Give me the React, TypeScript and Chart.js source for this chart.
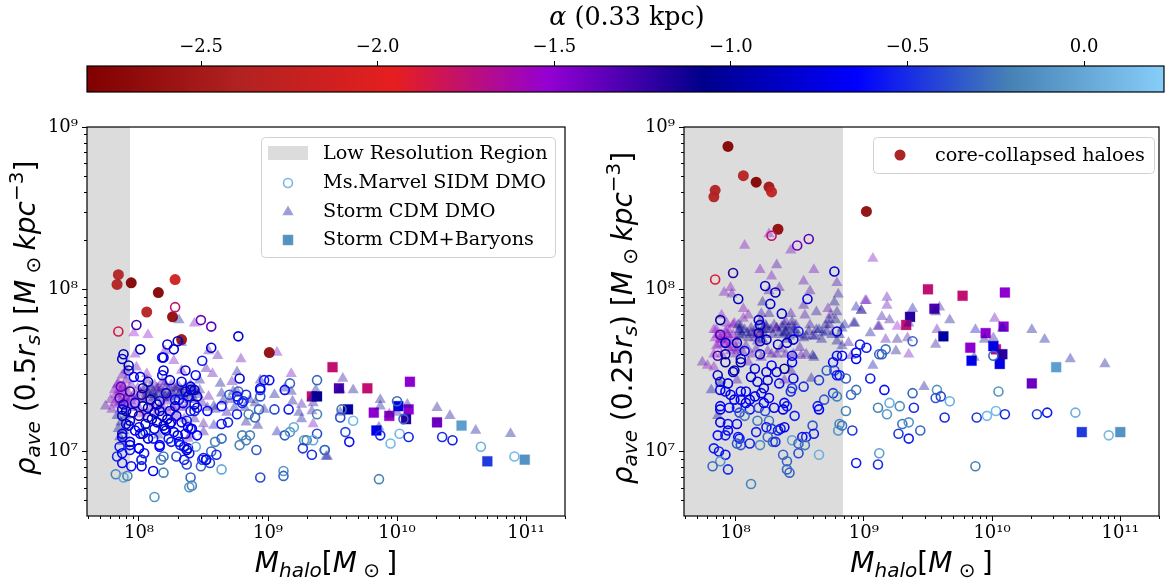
import React, { useEffect, useRef } from "react";
import { Chart, registerables } from "chart.js";
import { drawPoint } from "chart.js/helpers";

Chart.register(...registerables);

type P = [number, number, number]; // [log10 Mhalo, log10 rho, alpha]

const cmapColors = ["#800000", "#b22222", "#e61e1e", "#9400d3", "#00008b", "#0000ff", "#4682b4", "#87cefa"];
const alphaMin = -2.823;
const alphaMax = 0.226;
const alphaTicks = [-2.5, -2.0, -1.5, -1.0, -0.5, 0.0];
const massDecades = [8, 9, 10, 11];
const rhoDecades = [7, 8, 9];
const supers: Record<string, string> = { "7": "⁷", "8": "⁸", "9": "⁹", "10": "¹⁰", "11": "¹¹" };

const leftLowRes = 7.93;
const rightLowRes = 8.837;

const leftLegendNames = ["Low Resolution Region", "Ms.Marvel SIDM DMO", "Storm CDM DMO", "Storm CDM+Baryons"];
const rightLegendNames = ["core-collapsed haloes"];

const leftCollapsed: P[] = [
  [7.84,8.09,-2.39],[7.83,8.03,-2.4],[7.94,8.04,-2.8],[8.28,8.06,-2.15],[8.15,7.98,-2.8],
  [8.06,7.86,-2.35],[8.26,7.83,-2.7],[8.33,7.69,-2.6],[9.01,7.61,-2.7],
];
const leftBaryon: P[] = [
  [9.50,7.52,-1.75],[9.55,7.39,-1.3],[9.77,7.39,-1.75],[10.10,7.43,-1.5],[9.62,7.26,-1.0],[9.82,7.24,-1.5],
  [9.94,7.22,-1.55],[10.01,7.28,-0.75],[10.09,7.26,-1.5],[10.07,7.20,-1.2],[9.84,7.13,-0.7],[10.31,7.18,-1.4],
  [10.50,7.16,-0.05],[10.70,6.94,-0.45],[10.99,6.95,-0.12],[9.34,7.34,-1.75],[9.38,7.34,-1.1],
];
const leftCdm: P[] = [
  [8.31,7.81,-1.1],[8.43,7.79,-1.4],[7.96,7.73,-1.5],[8.07,7.72,-1.5],[8.33,7.67,-1.2],[9.07,7.61,-1.4],
  [8.79,7.57,-1.35],[8.61,7.59,-1.3],[8.54,7.62,-1.3],[8.27,7.56,-1.4],[8.20,7.62,-1.4],[7.97,7.60,-1.4],
  [7.98,7.52,-1.35],[7.90,7.50,-1.4],[7.87,7.47,-1.4],[8.06,7.48,-1.4],[8.52,7.51,-1.25],[8.57,7.48,-1.35],
  [8.33,7.50,-1.35],[8.47,7.44,-1.1],[8.76,7.49,-1.05],[8.72,7.43,-1.3],[8.63,7.42,-1.05],[8.64,7.36,-1.0],
  [8.54,7.34,-1.35],[9.05,7.35,-1.0],[8.94,7.44,-1.05],[9.18,7.48,-1.4],[9.18,7.37,-1.1],[9.13,7.39,-1.0],
  [9.19,7.31,-1.1],[9.26,7.29,-1.25],[9.24,7.24,-1.05],[9.34,7.25,-1.25],[9.35,7.17,-1.4],[9.26,7.20,-1.0],
  [9.07,7.12,-0.95],[8.92,7.16,-1.05],[8.83,7.18,-1.1],[8.68,7.24,-1.2],[8.59,7.26,-1.1],[8.58,7.16,-0.9],
  [8.50,7.17,-1.25],[8.50,7.12,-1.2],[8.73,7.37,-1.05],[8.76,7.37,-1.2],[8.86,7.32,-1.0],[9.37,7.38,-1.0],
  [9.35,7.30,-1.05],[9.34,7.33,-0.9],[9.45,6.97,-0.95],[8.38,7.08,-1.35],[7.85,7.09,-1.0],[7.83,7.22,-1.0],
  [7.74,7.28,-1.3],[7.79,7.26,-1.45],[7.81,7.38,-1.45],[7.84,7.42,-1.45],[7.87,7.39,-1.5],[7.88,7.36,-1.45],
  [7.84,7.34,-1.5],[7.81,7.30,-1.45],[7.89,7.32,-1.4],[7.93,7.27,-1.4],[7.97,7.31,-1.45],[8.01,7.36,-1.3],
  [8.05,7.39,-1.2],[8.07,7.35,-1.1],[8.11,7.37,-1.15],[8.15,7.39,-1.25],[8.18,7.43,-1.35],[8.21,7.40,-1.15],
  [8.25,7.37,-1.1],[8.29,7.39,-1.1],[8.32,7.36,-1.15],[8.36,7.32,-1.25],[8.42,7.39,-1.1],[8.46,7.35,-1.15],
  [8.49,7.30,-1.25],[8.09,7.30,-1.3],[8.16,7.28,-1.2],[8.21,7.31,-1.3],[8.28,7.28,-1.35],[8.29,7.22,-1.4],
  [8.00,7.27,-1.35],[8.02,7.23,-1.4],[8.12,7.34,-1.05],[8.19,7.33,-1.2],[8.24,7.34,-1.25],[8.03,7.32,-1.25],
  [8.06,7.44,-1.3],[7.94,7.41,-1.35],[7.95,7.34,-1.4],[7.92,7.36,-1.45],[8.14,7.39,-1.3],[8.40,7.34,-1.1],
  [8.43,7.32,-1.05],[8.37,7.28,-1.3],[8.53,7.27,-1.15],[8.58,7.28,-1.1],[7.88,7.13,-1.0],[7.84,7.14,-1.0],
  [7.87,7.06,-0.95],[9.58,7.45,-1.2],[9.56,7.38,-1.05],[9.66,7.38,-1.05],[9.87,7.32,-1.05],[9.87,7.28,-1.1],
  [9.56,7.24,-1.1],[10.08,7.29,-1.15],[10.31,7.27,-1.1],[10.41,7.22,-1.05],[10.61,7.13,-1.05],[10.88,7.11,-1.05],
  [9.86,7.15,-1.0],[9.46,6.97,-1.05],[9.94,7.23,-1.2],[10.0,7.24,-1.2],
  [7.82,7.35,-1.5],[7.85,7.37,-1.55],[7.86,7.31,-1.5],[7.88,7.40,-1.5],[7.83,7.41,-1.45],[7.90,7.33,-1.5],
  [7.91,7.30,-1.5],[7.94,7.33,-1.45],[7.96,7.28,-1.45],[7.98,7.34,-1.4],[7.99,7.39,-1.35],[7.90,7.44,-1.45],
  [7.88,7.29,-1.45],[7.84,7.29,-1.5],[7.78,7.32,-1.45],[8.03,7.38,-1.25],[8.05,7.33,-1.2],[8.07,7.37,-1.1],
  [8.09,7.40,-1.2],[8.10,7.35,-1.05],[8.12,7.41,-1.25],[8.13,7.33,-1.15],[8.15,7.36,-1.1],[8.17,7.38,-1.2],
  [8.19,7.36,-1.15],[8.20,7.42,-1.3],[8.22,7.36,-1.1],[8.23,7.33,-1.2],[8.25,7.41,-1.3],[8.27,7.35,-1.15],
  [8.28,7.39,-1.2],[8.30,7.34,-1.15],[8.31,7.40,-1.2],[8.33,7.38,-1.1],[8.34,7.35,-1.1],[8.36,7.40,-1.15],
  [8.38,7.36,-1.05],[8.40,7.41,-1.1],[8.41,7.37,-1.05],[8.44,7.37,-1.1],[8.47,7.38,-1.2],[8.10,7.27,-1.35],
  [8.14,7.25,-1.4],[8.18,7.28,-1.3],[8.22,7.25,-1.35],[8.26,7.27,-1.3],[8.33,7.27,-1.35],[8.06,7.24,-1.4],
  [8.35,7.20,-1.35],[8.40,7.10,-1.3],[8.43,7.20,-1.2],[8.15,7.10,-1.0],[7.90,7.22,-1.1],[7.86,7.18,-1.0],
  [8.65,7.31,-1.1],[8.70,7.32,-1.15],[8.74,7.27,-1.0],[8.82,7.27,-1.0],[8.90,7.30,-1.1],[8.97,7.26,-1.1],
];
const leftSidm: P[] = [
  [7.84,7.74,-1.85],[8.28,7.89,-1.75],[7.98,7.78,-1.25],[8.48,7.81,-1.4],[8.56,7.77,-1.35],[8.77,7.71,-0.75],
  [8.30,7.68,-0.9],[8.22,7.66,-0.8],[8.01,7.63,-0.95],[8.27,7.63,-0.8],[8.56,7.64,-0.8],[7.88,7.60,-0.9],
  [7.87,7.57,-0.8],[8.18,7.58,-0.7],[8.19,7.58,-0.75],[8.49,7.56,-0.55],[7.92,7.53,-0.9],[7.92,7.50,-0.85],
  [8.36,7.50,-0.85],[8.19,7.50,-0.75],[8.18,7.47,-0.7],[7.96,7.46,-0.75],[8.01,7.46,-0.75],[8.44,7.47,-0.65],
  [8.07,7.43,-0.95],[8.24,7.44,-0.8],[8.33,7.43,-0.75],[8.78,7.45,-0.8],[8.40,7.40,-0.75],[8.03,7.39,-0.95],
  [7.86,7.40,-1.4],[7.93,7.37,-1.2],[8.21,7.36,-0.85],[8.36,7.37,-0.85],[8.43,7.38,-0.85],[8.45,7.34,-0.85],
  [8.38,7.34,-0.75],[8.31,7.32,-0.55],[7.85,7.33,-1.3],[8.02,7.35,-1.2],[8.94,7.38,-0.5],[8.77,7.37,-0.3],
  [8.70,7.35,-0.35],[8.83,7.35,-0.5],[8.94,7.34,-0.35],[8.97,7.44,-0.55],[9.01,7.44,-0.6],[9.17,7.42,-0.3],
  [9.38,7.44,-0.3],[9.13,7.38,-0.6],[8.77,7.32,-0.5],[8.80,7.30,-0.5],[8.64,7.28,-0.6],[8.93,7.26,-0.3],
  [9.05,7.26,-0.4],[9.16,7.26,-0.55],[8.53,7.25,-0.65],[8.45,7.27,-0.65],[8.40,7.25,-0.55],[8.43,7.25,-0.55],
  [8.24,7.25,-0.75],[8.14,7.29,-0.85],[8.16,7.25,-0.85],[8.03,7.28,-0.95],[7.88,7.29,-0.85],[7.87,7.26,-0.75],
  [7.87,7.22,-0.85],[7.93,7.19,-0.85],[8.00,7.22,-1.2],[8.07,7.21,-0.85],[8.14,7.18,-0.85],[8.24,7.17,-0.85],
  [8.37,7.19,-0.55],[8.76,7.23,-0.55],[8.85,7.23,-0.2],[8.90,7.21,-0.3],[8.69,7.18,-0.5],[8.64,7.17,-0.6],
  [9.38,7.23,-0.2],[7.92,7.16,-0.75],[7.97,7.13,-0.7],[8.01,7.11,-0.65],[8.05,7.12,-0.3],[8.20,7.14,-0.75],
  [8.27,7.12,-0.65],[8.40,7.14,-0.55],[8.36,7.11,-0.75],[8.45,7.10,-0.65],[7.87,7.11,-0.75],[7.87,7.09,-0.75],
  [8.11,7.08,-0.55],[8.07,7.08,-0.75],[8.16,7.04,-0.65],[8.25,7.06,-0.55],[8.32,7.04,-0.55],[8.38,7.02,-0.65],
  [8.44,7.03,0.0],[8.59,7.06,-0.2],[8.64,7.08,-0.3],[8.80,7.10,-0.2],[8.86,7.10,-0.2],[8.83,7.07,-0.2],
  [8.78,7.04,-0.2],[8.91,7.01,-0.35],[9.13,7.10,-0.35],[9.17,7.12,-0.1],[9.20,7.15,0],[9.38,7.11,-0.4],
  [9.28,7.07,-0.1],[9.30,7.07,-0.2],[9.35,7.07,0],[9.27,7.02,-0.45],[9.44,7.01,-0.2],[9.34,6.98,-0.5],
  [7.85,7.03,-0.55],[7.93,7.04,-0.65],[7.93,7.01,-0.55],[8.00,7.02,-0.55],[8.04,6.99,-0.6],[7.83,6.97,-0.5],
  [7.87,6.99,-0.65],[7.87,6.93,-0.6],[7.94,6.91,-0.6],[8.02,6.91,-0.65],[8.02,6.95,-0.4],[8.17,6.95,-0.25],
  [8.19,6.97,-0.25],[8.29,6.97,-0.4],[8.35,6.95,-0.6],[8.39,6.99,-0.55],[8.37,6.92,-0.4],[8.48,6.91,-0.3],
  [8.49,6.95,-0.4],[8.52,6.95,-0.4],[8.56,7.00,-0.3],[8.60,6.98,-0.5],[8.55,6.93,-0.4],[8.64,6.89,0.0],
  [9.12,6.88,-0.1],[9.12,6.85,-0.3],[8.94,6.84,-0.4],[8.11,6.88,-0.65],[8.19,6.87,-0.2],[7.82,6.86,-0.2],
  [7.88,6.84,0.0],[7.91,6.85,-0.2],[8.40,6.84,-0.3],[8.41,6.79,-0.2],[8.39,6.78,-0.1],[8.12,6.72,-0.1],
  [9.57,7.26,-0.25],[9.56,7.21,-0.4],[9.66,7.19,0.1],[9.60,7.12,-0.4],[9.63,7.06,-0.6],[9.44,7.01,-0.3],
  [10.00,7.31,-0.3],[10.05,7.20,-0.3],[9.87,7.10,-0.5],[10.02,7.11,0.1],[9.95,7.05,0.1],[10.09,7.09,-0.5],
  [10.35,7.09,-0.5],[10.43,7.07,-0.55],[10.65,7.03,0.05],[10.91,6.97,0.1],[9.86,6.83,-0.2],
  [7.97,7.30,-0.85],[8.09,7.32,-0.95],[8.16,7.31,-0.85],[8.28,7.32,-0.75],[8.03,7.11,-0.75],[8.19,7.16,-0.85],
  [8.21,7.13,-0.75],[8.25,7.18,-0.75],[8.41,7.14,-0.65],[8.38,7.15,-0.75],[8.10,7.20,-0.85],[7.93,7.06,-0.75],
  [8.00,7.02,-0.65],[8.16,7.03,-0.65],[8.35,7.03,-0.6],[8.31,7.06,-0.6],[8.37,7.01,-0.85],[8.02,6.95,-0.5],
  [8.50,6.96,-0.55],[8.52,6.95,-0.65],[7.90,7.17,-0.85],[8.43,7.29,-0.85],[8.40,7.38,-0.85],[8.76,7.34,-0.6],
  [8.81,7.31,-0.5],[8.94,7.39,-0.65],
  [8.07,7.27,-0.9],[8.12,7.24,-0.85],[8.18,7.22,-0.8],[8.22,7.20,-0.85],[8.29,7.22,-0.75],[8.33,7.18,-0.7],
  [7.95,7.24,-0.85],[7.90,7.25,-0.95],[8.05,7.17,-0.85],[8.12,7.14,-0.75],[8.30,7.10,-0.75],[8.23,7.08,-0.55],
  [8.00,7.15,-0.75],[8.28,7.28,-0.85],[8.34,7.30,-0.75],
];

const rightCollapsed: P[] = [
  [7.94,8.88,-2.8],[8.06,8.70,-2.35],[8.16,8.66,-2.8],[8.26,8.63,-2.55],[8.28,8.60,-2.25],[7.84,8.61,-2.4],
  [7.83,8.57,-2.4],[8.33,8.37,-2.7],[9.02,8.48,-2.7],
];
const rightBaryon: P[] = [
  [9.50,8.00,-1.75],[9.77,7.96,-1.75],[10.10,7.98,-1.5],[9.55,7.88,-1.3],[9.36,7.83,-1.2],[9.33,7.78,-1.75],
  [9.62,7.71,-1.0],[9.95,7.73,-1.5],[10.09,7.77,-1.5],[9.83,7.64,-1.5],[10.03,7.63,-1.7],[10.01,7.65,-0.75],
  [10.08,7.60,-1.2],[9.84,7.56,-0.7],[10.06,7.54,-0.75],[10.31,7.42,-1.4],[10.50,7.52,-0.05],[10.70,7.12,-0.45],
  [11.00,7.12,-0.12],
];
const rightCdm: P[] = [
  [8.07,8.27,-1.45],[8.26,8.34,-1.5],[8.43,8.24,-1.4],[8.32,8.15,-1.3],[8.19,8.12,-1.4],[8.28,8.08,-1.4],
  [8.61,8.12,-1.4],[9.07,8.19,-1.4],[7.91,7.98,-1.4],[7.96,8.01,-1.45],[7.97,7.97,-1.35],[8.34,8.01,-1.3],
  [8.26,7.99,-1.3],[8.53,8.05,-1.35],[8.79,8.04,-1.3],[8.58,7.99,-1.3],[8.80,7.97,-1.2],[8.21,7.92,-1.1],
  [8.77,7.92,-1.1],[8.53,7.90,-1.25],[8.06,7.88,-1.45],[8.63,7.86,-1.2],[9.01,7.93,-1.35],[8.94,7.89,-0.95],
  [8.98,7.87,-1.1],[8.72,7.88,-1.35],[8.79,7.86,-1.15],[8.54,7.84,-1.3],[8.43,7.85,-1.25],[8.74,7.84,-1.3],
  [8.10,7.84,-1.4],[8.06,7.82,-1.45],[7.89,7.84,-1.5],[7.99,7.79,-1.5],[7.93,7.79,-1.45],[7.85,7.75,-1.5],
  [8.93,7.79,-1.05],[9.05,7.73,-1.05],[9.11,7.77,-1.15],[8.20,7.85,-1.2],[8.26,7.85,-1.2],[8.19,7.80,-1.2],
  [8.44,7.80,-1.15],[8.39,7.80,-1.3],[8.32,7.76,-1.3],[8.03,7.75,-1.05],[8.24,7.77,-1.05],[8.12,7.73,-1.15],
  [8.39,7.74,-1.1],[8.46,7.75,-1.0],[8.55,7.71,-1.1],[8.65,7.75,-1.0],[8.70,7.78,-1.1],[8.73,7.81,-1.1],
  [8.83,7.76,-1.0],[8.78,7.81,-1.1],[7.94,7.75,-1.5],[8.03,7.71,-1.2],[8.19,7.73,-1.3],[8.03,7.74,-1.0],
  [7.98,7.78,-1.45],[7.83,7.75,-1.5],[7.94,7.72,-1.45],[8.10,7.70,-1.15],[8.24,7.75,-1.2],[8.32,7.76,-1.3],
  [8.39,7.73,-1.1],[8.44,7.77,-1.15],[8.53,7.70,-1.1],[8.67,7.69,-1.1],[8.63,7.75,-1.05],[8.60,7.71,-1.25],
  [8.73,7.78,-1.2],[8.79,7.68,-1.05],[8.88,7.67,-1.2],[8.92,7.79,-1.1],[8.83,7.65,-1.1],[8.90,7.59,-1.25],
  [9.07,7.53,-0.95],[8.60,7.59,-1.1],[8.61,7.58,-1.05],[8.50,7.64,-1.25],[8.51,7.59,-1.3],[8.39,7.60,-1.3],
  [8.32,7.60,-1.3],[8.25,7.62,-1.35],[8.16,7.63,-1.3],[7.74,7.55,-1.3],[7.78,7.53,-1.45],[7.83,7.52,-1.45],
  [7.83,7.60,-1.5],[7.85,7.65,-1.5],[7.89,7.60,-1.45],[7.90,7.69,-1.5],[7.96,7.62,-1.45],[8.0,7.68,-1.45],
  [8.10,7.55,-1.35],[8.01,7.44,-1.25],[7.88,7.42,-1.1],[7.81,7.38,-0.95],[7.86,7.22,-1.1],[8.59,7.45,-1.1],
  [8.38,7.44,-1.35],[8.43,7.50,-1.2],[7.94,7.64,-1.5],[8.01,7.63,-1.45],[8.08,7.65,-1.3],[8.18,7.73,-1.35],
  [8.21,7.69,-1.1],[8.40,7.69,-1.2],[8.46,7.73,-1.1],[8.15,7.70,-1.3],[7.88,7.69,-1.5],
  [9.18,7.95,-1.3],[9.02,7.93,-1.35],[9.18,7.90,-1.35],[8.98,7.87,-1.2],[9.14,7.83,-1.2],[9.20,7.81,-1.2],
  [9.12,7.77,-1.3],[9.26,7.77,-1.5],[9.38,7.88,-0.95],[9.35,7.79,-1.0],[9.17,7.69,-1.3],[9.26,7.69,-1.15],
  [9.34,7.70,-1.3],[9.25,7.62,-1.1],[9.35,7.60,-1.4],[9.47,7.40,-1.05],[9.56,7.86,-1.1],[9.59,7.89,-1.2],
  [9.67,7.81,-1.1],[9.57,7.75,-1.3],[9.56,7.66,-1.15],[9.87,7.75,-0.9],[10.02,7.82,-1.35],[9.94,7.69,-1.1],
  [10.01,7.70,-1.15],[10.08,7.76,-0.95],[9.86,7.58,-1.05],[10.31,7.75,-1.05],[10.41,7.69,-1.05],[10.61,7.57,-1.05],
  [10.88,7.54,-1.05],
  [7.84,7.70,-1.5],[7.86,7.72,-1.5],[7.87,7.66,-1.5],[7.89,7.72,-1.55],[7.91,7.66,-1.5],[7.92,7.74,-1.45],
  [7.93,7.68,-1.5],[7.95,7.70,-1.5],[7.96,7.66,-1.5],[7.98,7.72,-1.45],[8.00,7.64,-1.4],[8.02,7.78,-1.1],
  [8.04,7.77,-1.05],[8.05,7.72,-1.1],[8.07,7.75,-1.15],[8.09,7.73,-1.1],[8.12,7.76,-1.2],[8.14,7.72,-1.2],
  [8.16,7.76,-1.1],[8.17,7.68,-1.25],[8.21,7.75,-1.15],[8.22,7.72,-1.1],[8.23,7.78,-1.15],[8.27,7.75,-1.1],
  [8.29,7.72,-1.2],[8.30,7.78,-1.2],[8.34,7.73,-1.05],[8.36,7.77,-1.1],[8.37,7.72,-1.05],[8.38,7.78,-1.15],
  [8.41,7.76,-1.05],[8.42,7.71,-1.1],[8.47,7.78,-1.2],[8.49,7.72,-1.15],[8.57,7.74,-1.1],[8.58,7.78,-1.2],
  [8.62,7.71,-1.0],[8.68,7.73,-1.0],[8.71,7.74,-1.0],[8.75,7.72,-1.0],[8.81,7.72,-1.05],[8.85,7.78,-1.05],
  [8.00,7.60,-1.35],[8.05,7.62,-1.3],[8.12,7.60,-1.35],[8.20,7.58,-1.3],[8.28,7.60,-1.3],[8.35,7.63,-1.3],
  [8.45,7.60,-1.3],[8.55,7.60,-1.25],
];
const rightSidm: P[] = [
  [8.28,8.33,-1.75],[8.48,8.27,-1.4],[8.57,8.31,-1.35],[7.84,8.06,-1.9],[7.98,8.10,-1.2],[8.77,8.11,-0.8],
  [8.23,8.02,-0.85],[8.31,7.98,-0.9],[8.02,7.94,-0.9],[8.27,7.91,-0.8],[8.56,7.94,-0.75],[8.36,7.85,-0.85],
  [7.88,7.81,-0.95],[8.18,7.81,-0.8],[8.19,7.78,-0.85],[8.49,7.74,-0.55],[8.79,7.74,-0.8],[7.88,7.72,-1.3],
  [8.18,7.73,-0.95],[8.33,7.66,-0.85],[8.40,7.67,-0.85],[8.45,7.69,-0.85],[8.24,7.69,-0.85],[8.19,7.68,-0.85],
  [7.92,7.67,-0.9],[8.01,7.67,-0.95],[8.07,7.62,-0.75],[7.86,7.59,-1.3],[7.92,7.60,-0.95],[8.04,7.57,-0.85],
  [8.19,7.60,-0.85],[8.44,7.59,-0.7],[8.44,7.55,-0.7],[8.79,7.59,-0.6],[8.83,7.59,-0.6],[8.94,7.61,-0.6],
  [8.94,7.57,-0.75],[8.97,7.66,-0.55],[9.02,7.64,-0.55],[9.12,7.60,-0.3],[8.76,7.55,-0.65],[7.92,7.55,-1.0],
  [8.04,7.55,-0.95],[8.15,7.51,-0.75],[7.99,7.50,-0.95],[7.98,7.49,-0.85],[8.28,7.53,-0.65],[8.32,7.49,-0.7],
  [8.38,7.51,-1.05],[8.24,7.49,-0.8],[8.71,7.50,-0.35],[8.77,7.50,-0.4],[8.79,7.47,-0.55],[8.81,7.47,-0.6],
  [8.86,7.45,-0.3],[9.05,7.45,-0.55],[8.65,7.44,-0.45],[8.45,7.45,-0.7],[8.53,7.40,-0.5],[8.34,7.42,-0.6],
  [8.17,7.43,-0.8],[8.25,7.44,-0.75],[8.12,7.46,-0.85],[7.86,7.47,-0.85],[7.88,7.43,-0.75],[7.94,7.42,-0.75],
  [8.22,7.39,-0.75],[8.20,7.36,-0.75],[8.44,7.39,-0.45],[8.43,7.37,-0.5],[8.76,7.36,-0.45],[8.79,7.34,-0.2],
  [8.69,7.32,-0.35],[8.90,7.35,-0.3],[8.94,7.38,-0.25],[7.88,7.38,-0.7],[7.92,7.37,-0.65],[7.96,7.35,-0.7],
  [8.04,7.37,-0.65],[8.08,7.37,-0.7],[8.04,7.32,-0.65],[8.26,7.33,-0.65],[8.15,7.34,-0.7],[8.11,7.32,-0.7],
  [7.99,7.32,-0.75],[7.88,7.28,-0.65],[7.88,7.26,-0.7],[7.95,7.27,-0.6],[8.01,7.27,-0.55],[8.03,7.24,-0.4],
  [8.11,7.26,-0.6],[8.18,7.27,-0.4],[8.38,7.30,-0.65],[8.37,7.26,-0.75],[8.40,7.28,-0.55],[8.46,7.22,-0.55],
  [8.23,7.25,-0.4],[8.64,7.28,-0.55],[8.65,7.26,-0.65],[8.86,7.25,-0.2],[9.11,7.27,-0.2],[8.07,7.22,-0.25],
  [7.88,7.18,-0.7],[7.94,7.17,-0.6],[8.01,7.17,-0.65],[7.94,7.13,-0.65],[7.92,7.10,-0.55],[7.86,7.10,-0.6],
  [8.17,7.19,-0.25],[8.26,7.19,-0.25],[8.24,7.15,-0.6],[8.16,7.12,-0.55],[8.33,7.13,-0.55],[8.35,7.14,-0.55],
  [8.38,7.15,-0.75],[8.28,7.14,-0.45],[8.81,7.17,-0.2],[8.80,7.13,-0.1],[8.83,7.16,-0.25],[8.91,7.13,-0.45],
  [8.60,7.16,-0.35],[8.61,7.11,-0.55],[8.55,7.09,-0.5],[8.52,7.09,-0.6],[8.44,7.07,-0.05],[8.25,7.09,-0.3],
  [8.02,7.09,-0.6],[8.03,7.08,-0.55],[8.01,7.05,-0.35],[8.04,7.04,-0.35],[8.11,7.05,-0.55],[8.19,7.04,-0.15],
  [8.29,7.06,-0.3],[8.31,7.06,-0.5],[8.49,7.05,-0.3],[8.54,7.04,-0.25],[8.49,6.99,-0.4],[8.65,6.98,0.05],
  [8.37,6.98,-0.3],[8.40,6.94,-0.3],[8.40,6.89,-0.3],[8.42,6.87,-0.3],[7.83,7.02,-0.55],[7.87,7.00,-0.55],
  [7.92,6.98,-0.6],[7.88,6.94,-0.1],[7.82,6.91,-0.3],[7.94,6.89,-0.5],[8.12,6.80,-0.2],[8.94,6.93,-0.55],
  [9.12,6.99,-0.05],[9.11,6.92,-0.5],
  [9.38,7.68,-0.3],[9.17,7.63,-0.25],[9.14,7.60,-0.35],[9.16,7.38,-0.6],[9.38,7.36,-0.3],[9.57,7.38,-0.1],
  [9.56,7.33,-0.35],[9.60,7.34,-0.4],[9.67,7.31,0.05],[9.20,7.30,0.05],[9.28,7.28,-0.15],[9.39,7.27,-0.5],
  [9.18,7.23,-0.1],[9.30,7.17,-0.25],[9.35,7.18,-0.1],[9.44,7.13,-0.3],[9.27,7.11,-0.45],[9.35,7.08,-0.55],
  [9.63,7.21,-0.5],[9.88,7.21,-0.45],[9.96,7.22,0.1],[10.03,7.25,0.1],[10.10,7.23,-0.5],[10.35,7.23,-0.45],
  [10.43,7.24,-0.55],[10.65,7.24,0.05],[10.91,7.10,0.1],[10.05,7.37,-0.1],[10.01,7.59,-0.3],[9.87,6.91,-0.2],
  [8.08,7.30,-0.7],[8.22,7.30,-0.7],[8.30,7.27,-0.7],
];

const hexToRgb = (h: string) => [parseInt(h.slice(1, 3), 16), parseInt(h.slice(3, 5), 16), parseInt(h.slice(5, 7), 16)];
const rgbStops = cmapColors.map(hexToRgb);
function cmap(a: number, op = 1) {
  const t = Math.min(1, Math.max(0, (a - alphaMin) / (alphaMax - alphaMin))) * (rgbStops.length - 1);
  const i = Math.min(rgbStops.length - 2, Math.floor(t));
  const f = t - i;
  const c = rgbStops[i].map((v, k) => Math.round(v + (rgbStops[i + 1][k] - v) * f));
  return `rgba(${c[0]},${c[1]},${c[2]},${op})`;
}

type Seg = [string, "r" | "i" | "sub" | "subr" | "sup"];
function drawRich(ctx: CanvasRenderingContext2D, segs: Seg[], x: number, y: number, size: number, family: string, rot = 0) {
  const small = Math.round(size * 0.7);
  const fontOf = (k: string) =>
    k === "r" ? `${size}px ${family}` : k === "i" ? `italic ${size}px ${family}` : k === "sub" ? `italic ${small}px ${family}` : `${small}px ${family}`;
  ctx.save();
  ctx.textBaseline = "alphabetic";
  ctx.textAlign = "left";
  ctx.fillStyle = "#000";
  let w = 0;
  for (const [t, k] of segs) {
    ctx.font = fontOf(k);
    w += ctx.measureText(t).width;
  }
  ctx.translate(x, y);
  ctx.rotate(rot);
  let cx = -w / 2;
  for (const [t, k] of segs) {
    ctx.font = fontOf(k);
    const dy = k === "sub" || k === "subr" ? size * 0.17 : k === "sup" ? -size * 0.42 : 0;
    ctx.fillText(t, cx, dy);
    cx += ctx.measureText(t).width;
  }
  ctx.restore();
}

const xTitle: Seg[] = [["M", "i"], ["halo", "sub"], ["[", "r"], ["M", "i"], [" ⊙ ", "subr"], ["]", "r"]];
const yTitleOf = (r: string): Seg[] => [
  ["ρ", "i"], ["ave", "sub"], [" (" + r, "r"], ["r", "i"], ["s", "sub"], [") [", "r"], ["M", "i"], [" ⊙ ", "subr"], ["kpc", "i"], ["−3", "sup"], ["]", "r"],
];

function makePanel(canvas: HTMLCanvasElement, cfg: {
  sidm: P[]; cdm: P[]; baryon: P[]; collapsed: P[]; lowRes: number; radius: string; pad: number; legend: "left" | "right";
}) {
  const toPts = (arr: P[]) => arr.map((p) => ({ x: 10 ** p[0], y: 10 ** p[1], a: p[2] }));
  const panelPlugin = {
    id: "panelExtras",
    beforeDatasetsDraw(chart: any) {
      const { ctx, chartArea: ca, scales } = chart;
      ctx.save();
      ctx.fillStyle = "#dcdcdc";
      const xr = scales.x.getPixelForValue(10 ** cfg.lowRes);
      ctx.fillRect(ca.left, ca.top, xr - ca.left, ca.bottom - ca.top);
      ctx.restore();
    },
    afterDatasetsDraw(chart: any) {
      const { ctx, chartArea: ca, scales } = chart;
      ctx.save();
      ctx.strokeStyle = "#000";
      ctx.lineWidth = 1;
      for (let d = 6; d <= 11; d++) {
        for (let k = 2; k <= 9; k++) {
          const v = k * 10 ** d;
          if (v >= scales.x.min && v <= scales.x.max) {
            const p = Math.round(scales.x.getPixelForValue(v)) + 0.5;
            ctx.beginPath(); ctx.moveTo(p, ca.bottom); ctx.lineTo(p, ca.bottom + 3); ctx.stroke();
          }
          if (v >= scales.y.min && v <= scales.y.max) {
            const p = Math.round(scales.y.getPixelForValue(v)) + 0.5;
            ctx.beginPath(); ctx.moveTo(ca.left, p); ctx.lineTo(ca.left - 3, p); ctx.stroke();
          }
        }
      }
      ctx.lineWidth = 1.2;
      ctx.strokeRect(ca.left, ca.top, ca.right - ca.left, ca.bottom - ca.top);

      // legend
      const box = cfg.legend === "left"
        ? { l: ca.left + 174, t: ca.top + 10, w: 294, h: 120 }
        : { l: ca.left + 189, t: ca.top + 10, w: 281, h: 36 };
      ctx.beginPath();
      ctx.roundRect(box.l + 0.5, box.t + 0.5, box.w, box.h, 4);
      ctx.fillStyle = "rgba(255,255,255,0.8)";
      ctx.fill();
      ctx.strokeStyle = "rgba(204,204,204,0.9)";
      ctx.lineWidth = 1;
      ctx.stroke();
      ctx.font = "19.2px 'DejaVu Serif'";
      ctx.textBaseline = "middle";
      ctx.textAlign = "left";
      if (cfg.legend === "left") {
        const rows = [16, 45, 74, 102];
        const mx = box.l + 27;
        const tx = box.l + 62;
        leftLegendNames.forEach((n, i) => {
          const y = box.t + rows[i];
          ctx.fillStyle = "#000";
          ctx.fillText(n, tx, y + 1);
          if (i === 0) {
            ctx.fillStyle = "#dcdcdc";
            ctx.fillRect(box.l + 7, y - 7, 40, 14);
          } else if (i === 1) {
            ctx.fillStyle = "rgba(0,0,0,0)";
            ctx.strokeStyle = cmap(0.1);
            ctx.lineWidth = 1.6;
            drawPoint(ctx, { pointStyle: "circle", radius: 4.5, borderWidth: 1.6, rotation: 0 } as any, mx, y + 1);
          } else if (i === 2) {
            ctx.fillStyle = cmap(-1.05, 0.38);
            ctx.strokeStyle = "rgba(0,0,0,0)";
            ctx.lineWidth = 0;
            drawPoint(ctx, { pointStyle: "triangle", radius: 6.5, borderWidth: 0, rotation: 0 } as any, mx, y + 1);
          } else {
            ctx.fillStyle = cmap(-0.12);
            ctx.strokeStyle = cmap(-0.12, 0.5);
            ctx.lineWidth = 1;
            drawPoint(ctx, { pointStyle: "rect", radius: 7, borderWidth: 1, rotation: 0 } as any, mx, y + 1);
          }
        });
      } else {
        ctx.fillStyle = "#000";
        ctx.fillText(rightLegendNames[0], box.l + 62, box.t + 19);
        ctx.fillStyle = cmap(-2.5, 0.95);
        ctx.lineWidth = 0;
        ctx.strokeStyle = "rgba(0,0,0,0)";
        drawPoint(ctx, { pointStyle: "circle", radius: 5.5, borderWidth: 0, rotation: 0 } as any, box.l + 27, box.t + 18);
      }
      ctx.restore();
    },
    afterDraw(chart: any) {
      const { ctx, chartArea: ca } = chart;
      drawRich(ctx, xTitle, (ca.left + ca.right) / 2, 462, 28, "'DejaVu Sans'");
      drawRich(ctx, yTitleOf(cfg.radius), 35, 318 - 110, 28, "'DejaVu Sans'", -Math.PI / 2);
    },
  };
  const tickFont = { family: "'DejaVu Serif'", size: 18 };
  const scatterBase = { showLine: false, parsing: true, clip: false };
  return new Chart(canvas, {
    type: "scatter",
    data: {
      datasets: [
        { label: "Ms.Marvel SIDM DMO", data: toPts(cfg.sidm), pointStyle: "circle", pointRadius: 4.5, pointBorderWidth: 1.6,
          pointBackgroundColor: "rgba(0,0,0,0)", pointBorderColor: (c: any) => cmap(c.raw?.a ?? 0), ...scatterBase },
        { label: "Storm CDM DMO", data: toPts(cfg.cdm), pointStyle: "triangle", pointRadius: 6.5, pointBorderWidth: 0,
          pointBackgroundColor: (c: any) => cmap(c.raw?.a ?? 0, 0.36), pointBorderColor: "rgba(0,0,0,0)", ...scatterBase },
        { label: "Storm CDM+Baryons", data: toPts(cfg.baryon), pointStyle: "rect", pointRadius: 7, pointBorderWidth: 1,
          pointBackgroundColor: (c: any) => cmap(c.raw?.a ?? 0, 1), pointBorderColor: (c: any) => cmap(c.raw?.a ?? 0, 0.3), ...scatterBase },
        { label: "core-collapsed haloes", data: toPts(cfg.collapsed), pointStyle: "circle", pointRadius: 5.5, pointBorderWidth: 0,
          pointBackgroundColor: (c: any) => cmap(c.raw?.a ?? 0, 0.95), ...scatterBase },
      ],
    },
    options: {
      animation: false,
      responsive: false,
      events: [],
      layout: { padding: { left: 0, top: 17, right: cfg.pad, bottom: 0 } },
      plugins: { legend: { display: false }, tooltip: { enabled: false }, title: { display: false } },
      scales: {
        x: {
          type: "logarithmic",
          min: 10 ** 7.597,
          max: 10 ** 11.302,
          afterFit: (s: any) => { s.height = 63; },
          afterBuildTicks: (s: any) => { s.ticks = massDecades.map((d) => ({ value: 10 ** d, major: true })); },
          afterTickToLabelConversion: (s: any) => { s.ticks.forEach((t: any, i: number) => { t.label = "10" + supers[String(massDecades[i])]; }); },
          grid: { display: true, drawOnChartArea: false, drawTicks: true, tickLength: 5, tickColor: "#000", tickWidth: 1 },
          border: { display: false },
          ticks: { font: tickFont, color: "#000", padding: 2, maxRotation: 0, autoSkip: false },
        },
        y: {
          type: "logarithmic",
          min: 10 ** 6.603,
          max: 1e9,
          afterFit: (s: any) => { s.width = 87; },
          afterBuildTicks: (s: any) => { s.ticks = rhoDecades.map((d) => ({ value: 10 ** d, major: true })); },
          afterTickToLabelConversion: (s: any) => { s.ticks.forEach((t: any, i: number) => { t.label = "10" + supers[String(rhoDecades[i])]; }); },
          grid: { display: true, drawOnChartArea: false, drawTicks: true, tickLength: 5, tickColor: "#000", tickWidth: 1 },
          border: { display: false },
          ticks: { font: tickFont, color: "#000", padding: 4, autoSkip: false },
        },
      },
    },
    plugins: [panelPlugin],
  } as any);
}

function makeColorbar(canvas: HTMLCanvasElement) {
  const barPlugin = {
    id: "barExtras",
    afterDraw(chart: any) {
      const { ctx, chartArea: ca } = chart;
      ctx.save();
      ctx.strokeStyle = "#000";
      ctx.lineWidth = 1.2;
      ctx.strokeRect(ca.left, ca.top, ca.right - ca.left, ca.bottom - ca.top);
      ctx.restore();
      drawRich(ctx, [["α", "i"], [" (0.33 kpc)", "r"]], 627, 25, 25.4, "'DejaVu Serif'");
    },
  };
  return new Chart(canvas, {
    type: "bar",
    data: {
      labels: ["alpha"],
      datasets: [{
        data: [[alphaMin, alphaMax]],
        barPercentage: 1,
        categoryPercentage: 1,
        backgroundColor: (c: any) => {
          const { ctx, chartArea: ca } = c.chart;
          if (!ca) return "#000";
          const g = ctx.createLinearGradient(ca.left, 0, ca.right, 0);
          cmapColors.forEach((col, i) => g.addColorStop(i / (cmapColors.length - 1), col));
          return g;
        },
      }],
    },
    options: {
      indexAxis: "y",
      animation: false,
      responsive: false,
      events: [],
      layout: { padding: { left: 87, top: 0, right: 3, bottom: 18 } },
      plugins: { legend: { display: false }, tooltip: { enabled: false } },
      scales: {
        y: { display: false },
        x: {
          type: "linear",
          position: "top",
          min: alphaMin,
          max: alphaMax,
          afterFit: (s: any) => { s.height = 66; },
          afterBuildTicks: (s: any) => { s.ticks = alphaTicks.map((v) => ({ value: v })); },
          afterTickToLabelConversion: (s: any) => { s.ticks.forEach((t: any) => { t.label = t.value.toFixed(1).replace("-", "−"); }); },
          grid: { display: true, drawOnChartArea: false, drawTicks: true, tickLength: 5, tickColor: "#000" },
          border: { display: false },
          ticks: { font: { family: "'DejaVu Serif'", size: 18 }, color: "#000", padding: 3, maxRotation: 0, autoSkip: false },
        },
      },
    },
    plugins: [barPlugin],
  } as any);
}

export default function App() {
  const barRef = useRef<HTMLCanvasElement>(null);
  const leftRef = useRef<HTMLCanvasElement>(null);
  const rightRef = useRef<HTMLCanvasElement>(null);
  useEffect(() => {
    const charts = [
      makeColorbar(barRef.current!),
      makePanel(leftRef.current!, { sidm: leftSidm, cdm: leftCdm, baryon: leftBaryon, collapsed: leftCollapsed, lowRes: leftLowRes, radius: "0.5", pad: 18, legend: "left" }),
      makePanel(rightRef.current!, { sidm: rightSidm, cdm: rightCdm, baryon: rightBaryon, collapsed: rightCollapsed, lowRes: rightLowRes, radius: "0.25", pad: 5, legend: "right" }),
    ];
    return () => charts.forEach((c) => c.destroy());
  }, []);
  const abs = (left: number, top: number): React.CSSProperties => ({ position: "absolute", left, top, display: "block" });
  return (
    <div style={{ position: "absolute", left: 0, top: 0, width: 1167, height: 579, overflow: "hidden", background: "#fff" }}>
      <canvas ref={barRef} width={1167} height={110} style={abs(0, 0)} />
      <canvas ref={leftRef} width={583} height={469} style={abs(0, 110)} />
      <canvas ref={rightRef} width={570} height={469} style={abs(597, 110)} />
    </div>
  );
}
